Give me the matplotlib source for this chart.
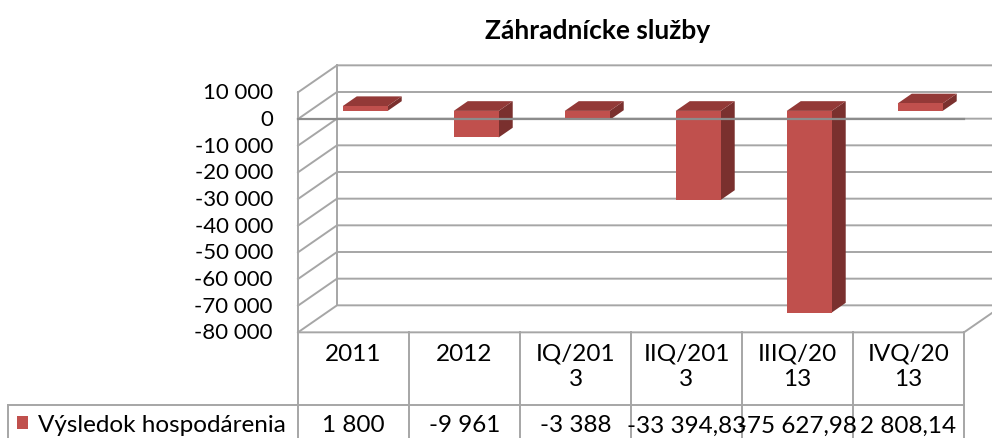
import matplotlib
matplotlib.use('Agg')
import matplotlib.pyplot as plt
from matplotlib.patches import Polygon, Rectangle

plt.rcParams['font.family'] = ['Lato', 'DejaVu Sans']

# data
title = 'Záhradnícke služby'
series_name = 'Výsledok hospodárenia'
categories = ['2011', '2012', 'IQ/2013', 'IIQ/2013', 'IIIQ/2013', 'IVQ/2013']
col_labels = ['2011', '2012', 'IQ/201\n3', 'IIQ/201\n3', 'IIIQ/20\n13', 'IVQ/20\n13']
values = [1800, -9961, -3388, -33394.83, -75627.98, 2808.14]
y_ticks = [10000, 0, -10000, -20000, -30000, -40000, -50000, -60000, -70000, -80000]

W, H = 992, 439
X0, COLW = 298, 111          # front-left edge of plot, column width (px)
Y0, PXV = 120, 26.667 / 10000  # zero line (px), px per value unit


def px2x(p):
    return (p - X0) / COLW - 0.5


def py2v(p):
    return (Y0 - p) / PXV


def fmt(v):
    if float(v).is_integer():
        return f'{int(v):,}'.replace(',', ' ')
    return f'{v:,.2f}'.replace(',', ' ').replace('.', ',')


n = len(categories)
DX = 39 / COLW      # depth offset in category units
DY = 27 / PXV       # depth offset in value units
grid_c = '#a6a6a6'
fs = 16
fs_tab = 17.5

fig = plt.figure(figsize=(W / 100, H / 100), dpi=100)
ax = fig.add_axes([0, 0, 1, 1])
ax.set_xlim(px2x(0), px2x(W))
ax.set_ylim(py2v(H), py2v(0))
ax.axis('off')

# walls and grid
ymin, ymax = min(y_ticks), max(y_ticks)
for v in y_ticks:
    ax.plot([-0.5, -0.5 + DX, px2x(W)], [v, v + DY, v + DY], color=grid_c, lw=1.4, zorder=1)
    ax.text(px2x(273), v, fmt(v), ha='right', va='center', fontsize=fs)
ax.plot([-0.5, -0.5], [ymax, ymin], color=grid_c, lw=1.4, zorder=1)
ax.plot([-0.5 + DX] * 2, [ymax + DY, ymin + DY], color=grid_c, lw=1.4, zorder=1)
ax.plot([-0.5, n - 0.5, n - 0.5 + DX], [ymin, ymin, ymin + DY], color=grid_c, lw=1.4, zorder=1)

# 3d bars
bw, d1, d2 = 0.405, 0.3, 0.66
for i, v in enumerate(values):
    lo, hi = min(0, v), max(0, v)
    xl = i - bw / 2 + d1 * DX
    xr = xl + bw
    oy = d1 * DY
    ddx, ddy = (d2 - d1) * DX, (d2 - d1) * DY
    front = [(xl, lo + oy), (xr, lo + oy), (xr, hi + oy), (xl, hi + oy)]
    top = [(xl, hi + oy), (xr, hi + oy), (xr + ddx, hi + oy + ddy), (xl + ddx, hi + oy + ddy)]
    side = [(xr, lo + oy), (xr + ddx, lo + oy + ddy), (xr + ddx, hi + oy + ddy), (xr, hi + oy)]
    ax.add_patch(Polygon(side, closed=True, fc='#7a302e', ec='none', zorder=3))
    ax.add_patch(Polygon(top, closed=True, fc='#933937', ec='none', zorder=3))
    ax.add_patch(Polygon(front, closed=True, fc='#c0504d', ec='none', zorder=3))

# zero line in front
ax.plot([-0.5, n - 0.5], [0, 0], color='#8c8c8c', lw=1.6, zorder=5)

# data table
row_div = py2v(406)
bottom = py2v(H + 5)
for k in range(n + 1):
    ax.plot([k - 0.5, k - 0.5], [ymin, bottom], color=grid_c, lw=1.4, zorder=1)
ax.plot([px2x(8), n - 0.5], [row_div, row_div], color=grid_c, lw=1.4, zorder=1)
ax.plot([px2x(8), px2x(8)], [row_div, bottom], color=grid_c, lw=1.4, zorder=1)
for i, v in enumerate(values):
    ax.text(i, py2v(344), col_labels[i], ha='center', va='top', fontsize=fs_tab, linespacing=1.25)
    ax.text(i, py2v(426), fmt(v), ha='center', va='center', fontsize=fs_tab)
ax.add_patch(Rectangle((px2x(17), py2v(430)), 11 / COLW, 13 / PXV, fc='#c0504d', ec='none'))
ax.text(px2x(38), py2v(426), series_name, ha='left', va='center', fontsize=fs_tab)

fig.text(598 / W, 1 - 39 / H, title, ha='center', va='baseline', fontsize=19, fontweight='bold')

fig.savefig('out.png', dpi=100)
